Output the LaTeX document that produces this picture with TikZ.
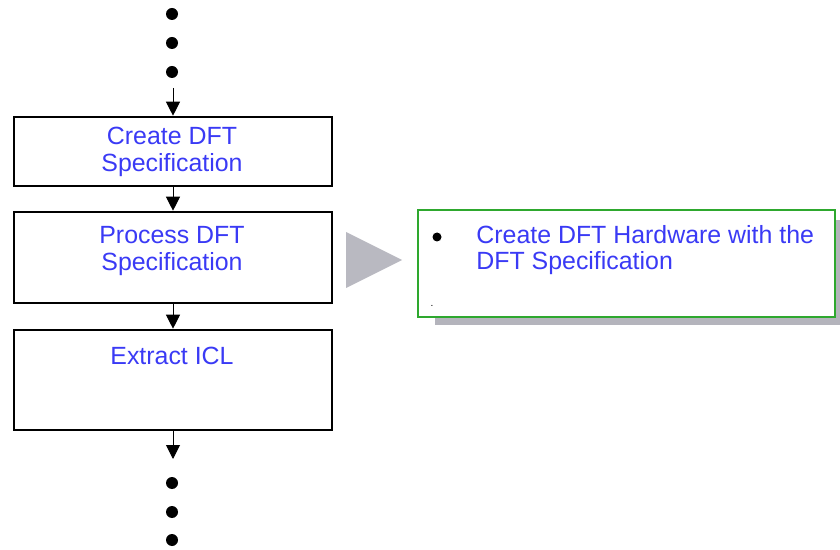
\documentclass[tikz,border=0pt]{standalone}
\usepackage{fontspec}
\setmainfont{Liberation Sans}
\usetikzlibrary{arrows.meta,positioning}
\definecolor{flowBlue}{HTML}{3A3AF5}
\definecolor{flowGreen}{HTML}{2EA82E}
\definecolor{flowGray}{HTML}{B9B9C1}
\definecolor{flowShadow}{HTML}{B4B4BC}

\begin{document}
\begin{tikzpicture}[x=0.5pt,y=-0.5pt,
  stepbox/.style={draw=black, line width=1.3pt, minimum width=159pt, inner sep=0pt},
  steptext/.style={text=flowBlue, align=center, font=\fontsize{12.45}{13.3}\selectfont, inner sep=0pt},
  flow/.style={-{Triangle[length=7pt,width=7pt]}, line width=0.5pt},
  dot/.style={circle, fill=black, minimum size=6pt, inner sep=0pt}]
  \useasboundingbox (0,0) rectangle (840,550);

  % continuation dots above and below the flow
  \foreach \i/\y in {1/14,2/43,3/72,4/483,5/512,6/540}
    \node[dot] (d\i) at (172,\y) {};

  % flow steps
  \node[stepbox, minimum height=34.5pt] (create) at (173,151.5) {};
  \node[stepbox, minimum height=45.5pt] (process) at (173,257.5) {};
  \node[stepbox, minimum height=50pt] (extract) at (173,380) {};
  \node[steptext] (createtxt) at (172,152) {Create DFT\\Specification};
  \node[steptext] (processtxt) at (172,251) {Process DFT\\Specification};
  \node[steptext] (extracttxt) at (172,356) {Extract ICL};

  \coordinate (flowin) at (173,88);
  \coordinate (flowout) at (173,459);
  \draw[flow] (flowin) -- (create.north);
  \draw[flow] (create.south) -- (process.north);
  \draw[flow] (process.south) -- (extract.north);
  \draw[flow] (extract.south) -- (flowout);

  % pointer to the detail box
  \fill[flowGray] (346,232) -- (402,260) -- (346,288) -- cycle;

  % detail box with shadow
  \fill[flowShadow] (435,220) rectangle (841,325);
  \node[draw=flowGreen, line width=1pt, fill=white, minimum width=208.5pt,
        minimum height=53.5pt, inner sep=0pt] (hw) at (626.5,263.5) {};
  \node[dot, minimum size=4.5pt] (bullet) at (437,237) {};
  \node[steptext, align=left, anchor=west] (hwtxt) at (476,250)
    {Create DFT Hardware with the\\DFT Specification};
  \node[font=\tiny, inner sep=0pt] (mark) at (432,306) {.};
\end{tikzpicture}
\end{document}
